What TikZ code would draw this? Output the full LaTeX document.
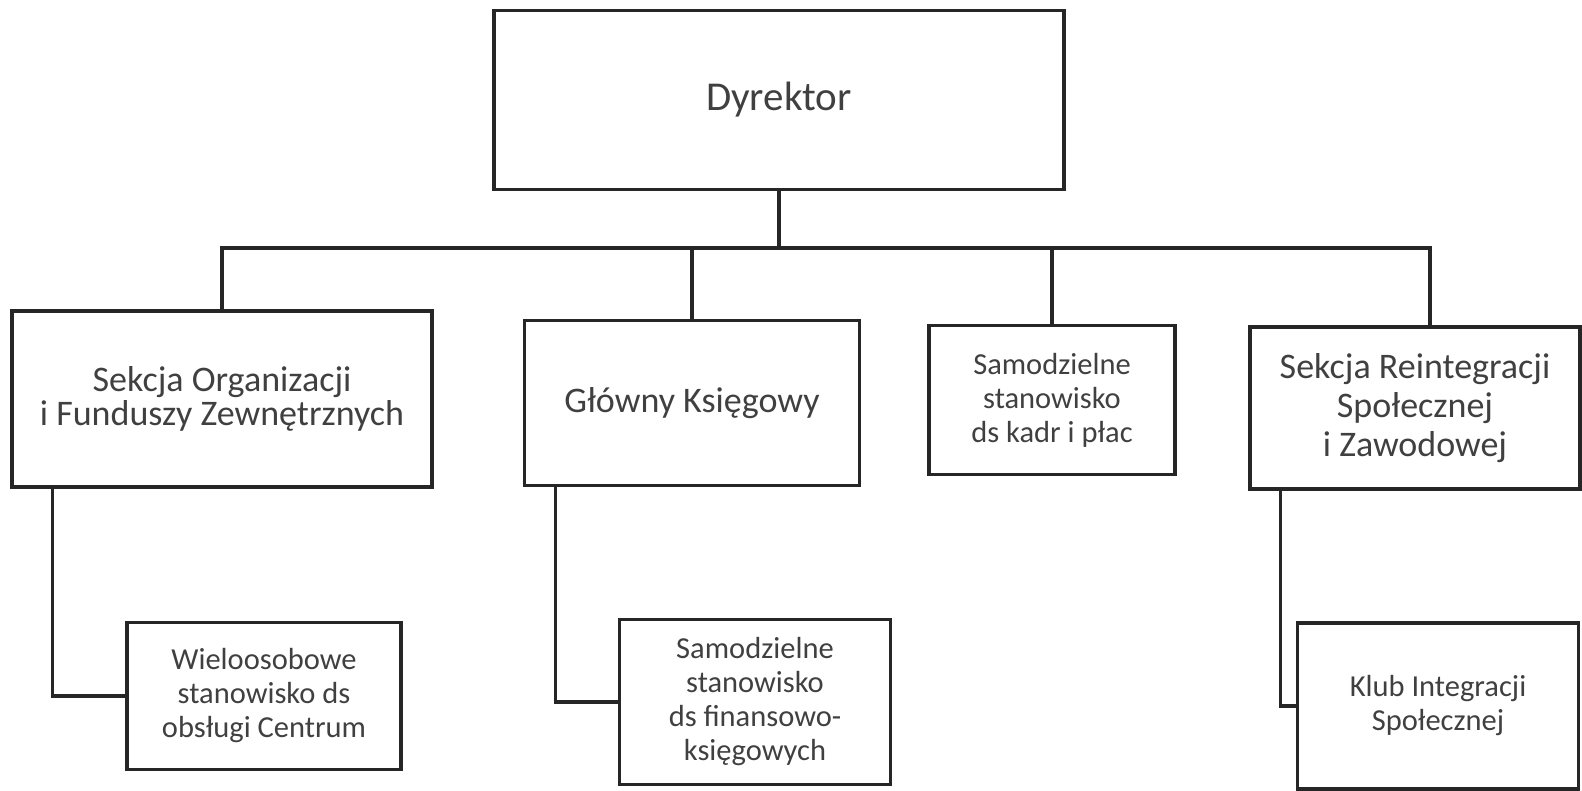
\documentclass[tikz,border=0pt]{standalone}
\usepackage{fontspec}
\setmainfont{Carlito}
\begin{document}
\begin{tikzpicture}[x=1pt,y=-1pt,
  box/.style={draw=black!85,line width=3.6pt,rectangle,inner sep=0pt,align=center,text=black!75},
  huge/.style={font=\fontsize{41}{44}\selectfont},
  big/.style={font=\fontsize{36}{36}\selectfont},
  small/.style={font=\fontsize{30.5}{34}\selectfont},
  conn/.style={draw=black!85,line width=3.4pt}]
\useasboundingbox (0,0) rectangle (1582,790);
\node[box,huge,minimum width=570,minimum height=179] (D) at (779,100) {Dyrektor};
\node[box,big,minimum width=420,minimum height=176,font=\fontsize{36}{34}\selectfont] (SO) at (222,399) {Sekcja Organizacji\\i Funduszy Zewnętrznych};
\node[box,big,minimum width=335,minimum height=165] (GK) at (692,403) {Główny Księgowy};
\node[box,small,minimum width=246,minimum height=149] (SK) at (1052,400) {Samodzielne\\stanowisko\\ds kadr i płac};
\node[box,big,minimum width=330,minimum height=162,font=\fontsize{36}{39}\selectfont] (SR) at (1415,408) {Sekcja Reintegracji\\Społecznej\\i Zawodowej};
\node[box,small,minimum width=274,minimum height=147] (W) at (264,696) {Wieloosobowe\\stanowisko ds\\obsługi Centrum};
\node[box,small,minimum width=271,minimum height=165] (SF) at (755,702) {Samodzielne\\stanowisko\\ds finansowo-\\księgowych};
\node[box,small,minimum width=281,minimum height=166] (KI) at (1438,706) {Klub Integracji\\Społecznej};
\coordinate (bus) at (779,248);
\draw[conn] (D.south) -- (bus);
\draw[conn] (SO.north) -- (SO.north |- bus) -- ([xshift=15pt]SR.north |- bus) -- ([xshift=15pt]SR.north);
\draw[conn] (GK.north) -- (GK.north |- bus);
\draw[conn] (SK.north) -- (SK.north |- bus);
\draw[conn] ([xshift=42pt]SO.south west) |- (W.west);
\draw[conn] ([xshift=33pt]GK.south west) |- (SF.west);
\draw[conn] ([xshift=32pt]SR.south west) |- (KI.west);
\end{tikzpicture}
\end{document}
